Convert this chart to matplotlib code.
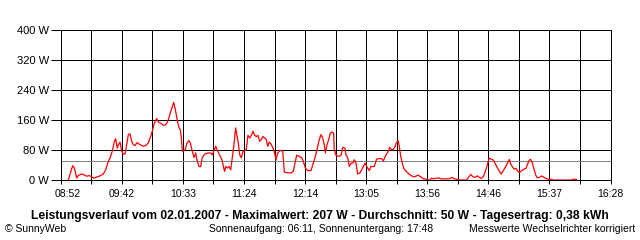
import matplotlib
matplotlib.use('Agg')
import matplotlib.pyplot as plt
import matplotlib.transforms as mtransforms
import numpy as np

# time of each sample in minutes since midnight, and power in W
times_min = [538.3, 541.9, 543.3, 545.3, 546.6, 549.4, 551.3, 553.6, 555.7, 557.7,
             559.6, 561.9, 564.6, 567.3, 569.3, 571.0, 572.9, 574.8, 576.5, 577.6,
             578.9, 579.8, 581.2, 582.6, 583.9, 585.3, 586.7, 588.1, 589.5, 590.9,
             592.2, 593.6, 595.5, 597.8, 600.5, 602.7, 604.7, 606.1, 608.0, 609.4,
             611.6, 612.9, 615.2, 617.1, 619.1, 621.0, 622.9, 624.6, 625.7, 626.8,
             627.9, 629.0, 630.1, 631.2, 632.0, 632.9, 634.0, 635.3, 636.8, 638.4,
             639.5, 641.1, 642.6, 644.0, 645.0, 646.7, 648.1, 649.4, 651.4, 654.2,
             656.4, 657.7, 658.9, 660.6, 661.6, 663.0, 664.4, 665.8, 667.2, 668.0,
             668.9, 670.2, 671.6, 673.0, 674.3, 675.7, 677.1, 678.0, 679.1, 680.5,
             681.8, 683.2, 684.6, 685.9, 687.3, 688.8, 690.1, 691.5, 692.9, 694.2,
             695.6, 697.0, 698.4, 699.8, 701.2, 702.5, 703.7, 705.0, 706.4, 707.8,
             709.2, 710.6, 712.0, 713.3, 714.7, 716.1, 717.5, 720.3, 723.0, 724.9,
             726.3, 727.7, 729.9, 731.9, 733.2, 734.9, 736.9, 739.6, 741.5, 743.2,
             745.2, 746.5, 747.9, 749.3, 750.6, 751.5, 752.9, 754.3, 755.6, 757.0,
             758.4, 758.9, 760.3, 762.6, 764.5, 765.9, 767.8, 768.6, 770.0, 771.4,
             772.8, 774.2, 775.5, 776.9, 778.3, 780.2, 781.6, 783.0, 784.4, 785.8,
             787.9, 789.3, 792.1, 794.0, 796.2, 798.2, 799.6, 801.6, 803.5, 804.9,
             806.2, 807.6, 809.0, 810.4, 811.8, 812.6, 814.0, 815.3, 816.7, 818.6,
             820.9, 823.1, 825.0, 826.5, 828.4, 829.8, 831.4, 832.7, 834.2, 836.1,
             838.1, 839.7, 841.1, 843.1, 845.8, 848.0, 850.7, 853.5, 855.5, 856.8,
             858.2, 860.5, 862.4, 865.1, 868.8, 870.1, 872.1, 873.8, 875.7, 877.6,
             879.2, 880.6, 882.5, 883.9, 885.3, 886.2, 887.5, 889.5, 890.8, 892.2,
             893.6, 895.8, 897.2, 899.1, 901.1, 902.7, 904.1, 905.2, 906.9, 908.2,
             909.6, 911.0, 912.4, 914.3, 916.2, 917.9, 919.3, 920.6, 921.8, 923.1,
             924.6, 926.0, 927.3, 929.0, 931.0, 932.9, 934.5, 936.4, 939.2, 940.6,
             956.1, 956.9, 959.4, 960.2]
watts = [0, 38, 32, 5, 12, 16, 14, 10, 12, 8,
         5, 8, 11, 16, 27, 45, 59, 77, 103, 110,
         85, 94, 101, 77, 69, 69, 94, 121, 123, 103,
         94, 92, 100, 94, 90, 92, 99, 112, 130, 149,
         164, 155, 151, 146, 147, 158, 179, 196, 207, 192,
         174, 155, 140, 134, 114, 77, 78, 81, 99, 105,
         99, 77, 60, 72, 54, 36, 36, 60, 69, 72,
         72, 67, 77, 90, 81, 72, 63, 54, 32, 23,
         36, 32, 36, 27, 59, 94, 139, 121, 103, 67,
         59, 77, 78, 81, 119, 112, 119, 130, 119, 116,
         119, 103, 108, 116, 112, 108, 90, 101, 96, 87,
         75, 54, 72, 77, 79, 77, 21, 19, 19, 23,
         45, 66, 63, 59, 50, 32, 25, 25, 45, 63,
         90, 108, 121, 112, 94, 72, 94, 108, 125, 128,
         125, 81, 66, 63, 66, 87, 85, 67, 60, 36,
         45, 45, 54, 45, 16, 19, 27, 36, 45, 36,
         25, 36, 36, 56, 57, 57, 51, 66, 75, 87,
         81, 81, 87, 99, 105, 94, 63, 45, 30, 23,
         16, 11, 8, 10, 13, 10, 7, 3, 3, 0,
         0, 5, 3, 5, 5, 3, 3, 3, 5, 7,
         3, 2, 0, 0, 0, 7, 15, 9, 7, 11,
         7, 4, 9, 20, 34, 46, 58, 55, 53, 45,
         36, 24, 16, 25, 36, 46, 55, 43, 34, 29,
         31, 24, 20, 25, 29, 31, 43, 53, 55, 46,
         28, 13, 6, 7, 11, 7, 4, 2, 2, 0,
         0, 2, 2, 0]
average_w = 50

x_tick_labels = ['08:52', '09:42', '10:33', '11:24', '12:14',
                 '13:05', '13:56', '14:46', '15:37', '16:28']
y_tick_values = [0, 80, 160, 240, 320, 400]
y_tick_labels = ['0 W', '80 W', '160 W', '240 W', '320 W', '400 W']

title_text = ('Leistungsverlauf vom 02.01.2007 - Maximalwert: 207 W - '
              'Durchschnitt: 50 W - Tagesertrag: 0,38 kWh')
copyright_text = '\u00a9 SunnyWeb'
sun_text = 'Sonnenaufgang: 06:11, Sonnenuntergang: 17:48'
note_text = 'Messwerte Wechselrichter korrigiert'


def to_min(s):
    h, m = s.split(':')
    return int(h) * 60 + int(m)


x_start = to_min(x_tick_labels[0])
x_end = to_min(x_tick_labels[-1])

px = 1 / 100 * 72  # one pixel in points
small_font = 'Liberation Sans'

fig = plt.figure(figsize=(6.4, 2.4), dpi=100)
fig.patch.set_facecolor('white')
ax = fig.add_axes([60.7 / 640, 60 / 240, 549.8 / 640, 150 / 240])
ax.set_xlim(x_start, x_end)
ax.set_ylim(0, 400)

ax.plot(times_min, watts, color='#ff0000', lw=0.9, antialiased=True, zorder=2.2)
ax.axhline(average_w, color='#808080', lw=px, antialiased=False, zorder=2.1)

grid_pos = np.linspace(x_start, x_end, 2 * len(x_tick_labels) - 1)
labels = []
for i in range(len(grid_pos)):
    labels.append(x_tick_labels[i // 2] if i % 2 == 0 else '')
ax.set_xticks(grid_pos)
ax.set_xticklabels(labels, family=small_font, fontsize=7.5)
ax.set_yticks(y_tick_values)
ax.set_yticklabels(y_tick_labels, family='Liberation Sans', fontsize=8)

ax.grid(True, color='black', lw=px, antialiased=False)
for s in ax.spines.values():
    s.set_linewidth(px)
    s.set_color('black')
    s.set_antialiased(False)

ax.tick_params(axis='x', direction='out', length=4 * px, width=px, pad=3.5, colors='black')
ax.tick_params(axis='y', direction='out', length=10 * px, width=px, pad=1.2, colors='black')

first = ax.get_xticklabels()[0]
first.set_transform(first.get_transform() +
                    mtransforms.ScaledTranslation(7 / 100, 0, fig.dpi_scale_trans))

fig.text(320 / 640, 1 - 216 / 240, title_text, ha='center', va='center',
         family='Liberation Sans', fontweight='bold', fontsize=8.7)
fig.text(5 / 640, 1 - 229 / 240, copyright_text, ha='left', va='center',
         family=small_font, fontsize=7.5)
fig.text(321 / 640, 1 - 229 / 240, sun_text, ha='center', va='center',
         family=small_font, fontsize=7.5)
fig.text(635 / 640, 1 - 229 / 240, note_text, ha='right', va='center',
         family=small_font, fontsize=7.5)

fig.savefig('out.png', dpi=100)
